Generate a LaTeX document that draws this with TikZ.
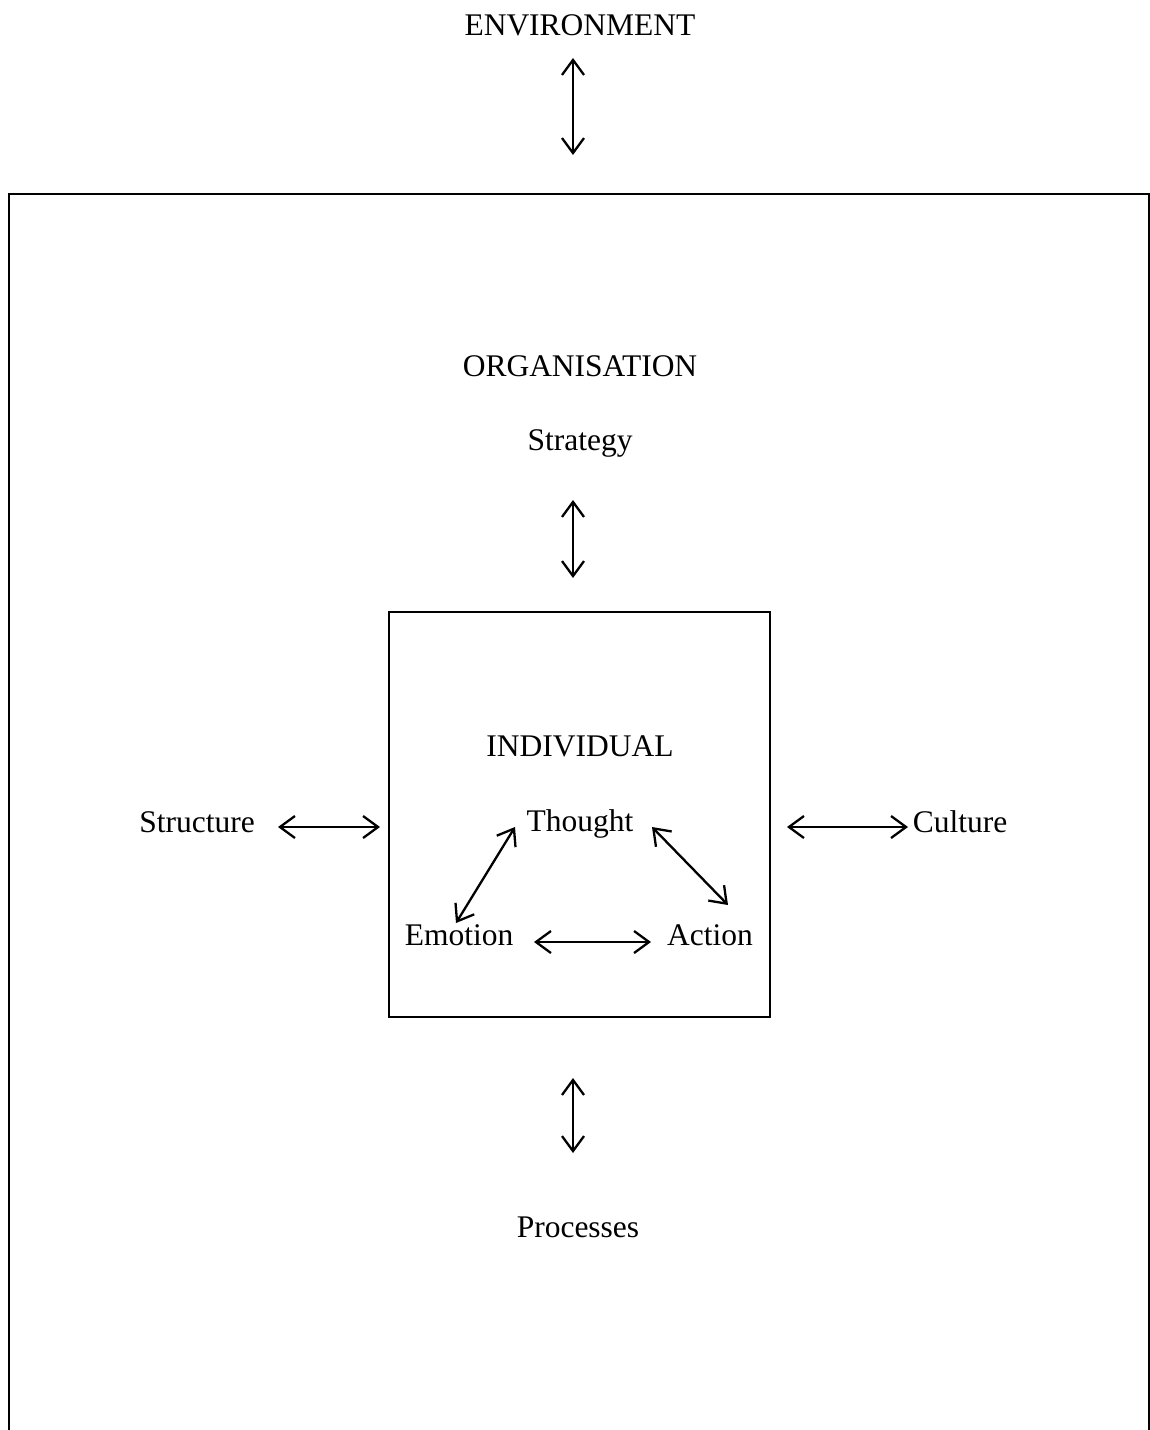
\documentclass[tikz,border=0pt]{standalone}
\usepackage{fontspec}
\setmainfont{Liberation Serif}
\usetikzlibrary{arrows.meta}
\begin{document}
\begin{tikzpicture}[x=1pt,y=-1pt,
  lbl/.style={inner sep=0pt, font=\fontsize{31.5}{36}\selectfont},
  frame/.style={draw=black, line width=2.2pt},
  barb/.style={Straight Barb[length=15pt,width=22pt,line width=2.3pt]},
  link/.style={line width=2.3pt, {Straight Barb[length=15pt,width=22pt,line width=2.3pt]}-{Straight Barb[length=15pt,width=22pt,line width=2.3pt]}}]
  \useasboundingbox (0,0) rectangle (1150,1430);
  \fill[white] (0,0) rectangle (1150,1430);

  % boxes
  \begin{scope}
    \clip (0,0) rectangle (1150,1430);
    \node[frame, inner sep=0pt, minimum width=1140pt, minimum height=1260pt, anchor=north west] (org) at (8,193) {};
  \end{scope}
  \node[frame, inner sep=0pt, minimum width=381pt, minimum height=405pt, anchor=north west] (ind) at (388,611) {};

  % labels
  \node[lbl] (env) at (580,25) {ENVIRONMENT};
  \node[lbl] (orglbl) at (580,366) {ORGANISATION};
  \node[lbl] (strat) at (580,443) {Strategy};
  \node[lbl] (indlbl) at (580,746) {INDIVIDUAL};
  \node[lbl] (thought) at (580,824) {Thought};
  \node[lbl] (struct) at (197,822) {Structure};
  \node[lbl] (cult) at (960,822) {Culture};
  \node[lbl] (emo) at (459,935) {Emotion};
  \node[lbl] (act) at (710,935) {Action};
  \node[lbl] (proc) at (578,1227) {Processes};

  % arrow end points
  \coordinate (e1) at (573,58);   \coordinate (e2) at (573,155);
  \coordinate (s1) at (573,500);  \coordinate (s2) at (573,578);
  \coordinate (p1) at (573,1078); \coordinate (p2) at (573,1153);
  \coordinate (l1) at (278,827);  \coordinate (l2) at (380,827);
  \coordinate (r1) at (787,827);  \coordinate (r2) at (908,827);
  \coordinate (te1) at (515,827); \coordinate (te2) at (456,923);
  \coordinate (ta1) at (652,827); \coordinate (ta2) at (728,905);
  \coordinate (ea1) at (534,942); \coordinate (ea2) at (651,942);

  % connectors
  \draw[link] (e1) -- (e2);
  \draw[link] (s1) -- (s2);
  \draw[link] (p1) -- (p2);
  \draw[link] (l1) -- (l2);
  \draw[link] (r1) -- (r2);
  \draw[link] (te1) -- (te2);
  \draw[link] (ta1) -- (ta2);
  \draw[link] (ea1) -- (ea2);
\end{tikzpicture}
\end{document}
